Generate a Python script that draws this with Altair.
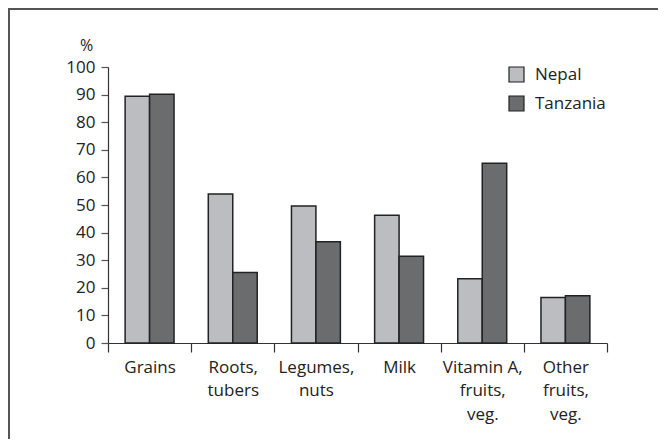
import altair as alt
import pandas as pd

categories = ["Grains", "Roots,|tubers", "Legumes,|nuts", "Milk",
              "Vitamin A,|fruits,|veg.", "Other|fruits,|veg."]
nepal = [89.4, 54.0, 49.6, 46.3, 23.3, 16.5]
tanzania = [90.1, 25.5, 36.7, 31.4, 65.1, 17.1]
countries = ["Nepal", "Tanzania"]
colors = ["#bcbdc1", "#6b6c6e"]
y_ticks = list(range(0, 101, 10))

rows = []
for c, n, t in zip(categories, nepal, tanzania):
    rows.append({"cat": c, "country": "Nepal", "value": n})
    rows.append({"cat": c, "country": "Tanzania", "value": t})
df = pd.DataFrame(rows)

W, H = 499, 276
FONT = "Open Sans"
TXT = "#222222"

bars = alt.Chart(df).mark_bar(stroke="#222222", strokeWidth=1.5).encode(
    x=alt.X("cat:N", sort=categories,
            scale=alt.Scale(paddingInner=0, paddingOuter=0),
            axis=alt.Axis(title=None, labelAngle=0, tickBand="extent", tickSize=9,
                          labelExpr="split(datum.label, '|')",
                          labelPadding=7, labelLineHeight=23.5, labelFontSize=17,
                          labelFont=FONT, labelColor=TXT, labelBaseline="top",
                          domainColor="#333333", tickColor="#333333",
                          domainWidth=1.2, tickWidth=1.2)),
    xOffset=alt.XOffset("country:N", sort=countries,
                        scale=alt.Scale(paddingOuter=0.7, paddingInner=0)),
    y=alt.Y("value:Q", scale=alt.Scale(domain=[0, 100], nice=False),
            axis=alt.Axis(values=y_ticks, title="%", titleAngle=0, titleX=-22, titleY=-22,
                          titleAlign="center", titleBaseline="middle",
                          titleFont=FONT, titleFontSize=16, titleFontWeight="normal",
                          titleColor=TXT, grid=False, tickSize=7, labelPadding=6,
                          labelFont=FONT, labelFontSize=17, labelColor=TXT,
                          domainColor="#333333", tickColor="#555555",
                          domainWidth=1.2, tickWidth=1.2)),
    color=alt.Color("country:N", sort=countries,
                    scale=alt.Scale(domain=countries, range=colors),
                    legend=alt.Legend(title=None, orient="none", legendX=400, legendY=-1,
                                      symbolType="square", symbolSize=225,
                                      symbolStrokeColor="#222222", symbolStrokeWidth=1.2,
                                      labelFont=FONT, labelFontSize=17, labelColor=TXT,
                                      labelOffset=10, rowPadding=8)),
)

frame_src = pd.DataFrame({"a": [0]})
frame_top = alt.Chart(frame_src).mark_rule(stroke="#555555", strokeWidth=2).encode(
    x=alt.value(-100), x2=alt.value(560), y=alt.value(-58)
)
frame_left = alt.Chart(frame_src).mark_rule(stroke="#555555", strokeWidth=2).encode(
    x=alt.value(-99), y=alt.value(-59), y2=alt.value(380)
)

chart = alt.layer(frame_top, frame_left, bars).properties(
    width=W, height=H,
    autosize=alt.AutoSizeParams(type="none"),
    padding={"left": 100, "top": 59, "right": 51, "bottom": 96},
).configure_view(strokeWidth=0)

chart.save("out.html", embed_options={"renderer": "svg", "actions": False})
